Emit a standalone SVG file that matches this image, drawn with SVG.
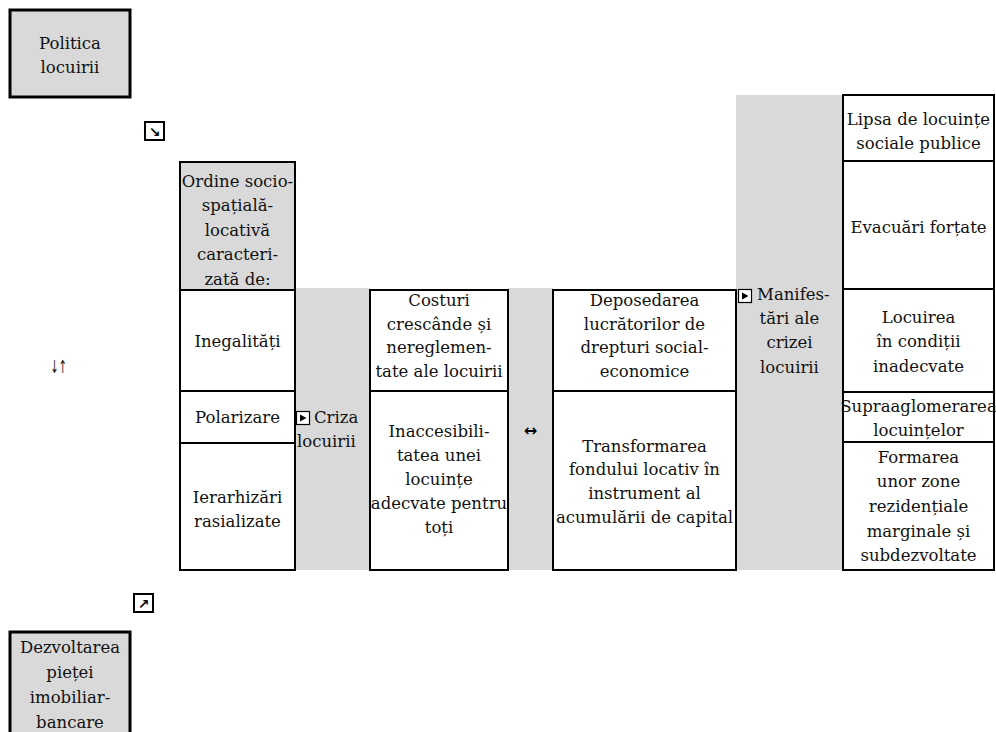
<svg xmlns="http://www.w3.org/2000/svg" width="996" height="732" viewBox="0 0 996 732">
<style>
.t{font-family:"DejaVu Serif","Liberation Serif",serif;font-size:16.5px;fill:#111;text-anchor:middle}
.ts{font-family:"DejaVu Serif","Liberation Serif",serif;font-size:16.5px;fill:#111}
.box{fill:#d9d9d9;stroke:#000;stroke-width:3}
.hd{fill:#d9d9d9;stroke:#000;stroke-width:2}
.cell{fill:#fff;stroke:#000;stroke-width:2}
.band{fill:#d9d9d9}
.ic{fill:#fff;stroke:#000;stroke-width:2}
.ic1{fill:#fff;stroke:#000;stroke-width:1.2}
.tri{fill:#000}
.arr{font-family:"DejaVu Sans",sans-serif;font-weight:bold;fill:#000;text-anchor:middle}
</style>
<rect width="996" height="732" fill="#fff"/>

<g id="politica">
<rect class="box" x="10" y="10" width="120" height="87"/>
<text class="t"><tspan x="70" y="49">Politica</tspan><tspan x="70" y="73">locuirii</tspan></text>
</g>

<g id="bands">
<rect class="band" x="295" y="288" width="75" height="282"/>
<rect class="band" x="508" y="288" width="45" height="282"/>
<rect class="band" x="736" y="95" width="107" height="475"/>
</g>

<g id="ordine">
<rect class="hd" x="180" y="162" width="115" height="128"/>
<text class="t"><tspan x="237.5" y="187">Ordine socio-</tspan><tspan x="237.5" y="211">spațială-</tspan><tspan x="237.5" y="236">locativă</tspan><tspan x="237.5" y="260">caracteri-</tspan><tspan x="237.5" y="285">zată de:</tspan></text>
</g>
<g id="inegalitati">
<rect class="cell" x="180" y="290" width="115" height="101"/>
<text class="t" x="237.5" y="347">Inegalități</text>
</g>
<g id="polarizare">
<rect class="cell" x="180" y="391" width="115" height="52"/>
<text class="t" x="237.5" y="423">Polarizare</text>
</g>
<g id="ierarhizari">
<rect class="cell" x="180" y="443" width="115" height="127"/>
<text class="t"><tspan x="237.5" y="503">Ierarhizări</tspan><tspan x="237.5" y="527">rasializate</tspan></text>
</g>

<g id="criza">
<rect class="ic1" x="296.5" y="411.5" width="13" height="13"/>
<polygon class="tri" points="300,414.5 300,421.5 306.5,418"/>
<text class="ts"><tspan x="314" y="423">Criza</tspan><tspan x="297" y="447">locuirii</tspan></text>
</g>

<g id="costuri">
<rect class="cell" x="370" y="290" width="138" height="101"/>
<text class="t"><tspan x="439" y="306">Costuri</tspan><tspan x="439" y="330">crescânde și</tspan><tspan x="439" y="353">nereglemen-</tspan><tspan x="439" y="377">tate ale locuirii</tspan></text>
</g>
<g id="inaccesibilitatea">
<rect class="cell" x="370" y="391" width="138" height="179"/>
<text class="t"><tspan x="439" y="437">Inaccesibili-</tspan><tspan x="439" y="461">tatea unei</tspan><tspan x="439" y="485">locuințe</tspan><tspan x="439" y="509">adecvate pentru</tspan><tspan x="439" y="533">toți</tspan></text>
</g>

<g id="deposedarea">
<rect class="cell" x="553" y="290" width="183" height="101"/>
<text class="t"><tspan x="644.5" y="306">Deposedarea</tspan><tspan x="644.5" y="330">lucrătorilor de</tspan><tspan x="644.5" y="353">drepturi social-</tspan><tspan x="644.5" y="377">economice</tspan></text>
</g>
<g id="transformarea">
<rect class="cell" x="553" y="391" width="183" height="179"/>
<text class="t"><tspan x="644.5" y="452">Transformarea</tspan><tspan x="644.5" y="475">fondului locativ în</tspan><tspan x="644.5" y="499">instrument al</tspan><tspan x="644.5" y="523">acumulării de capital</tspan></text>
</g>

<g id="manifestari">
<rect class="ic1" x="738.5" y="289.5" width="13" height="13"/>
<polygon class="tri" points="742,292.5 742,299.5 748.5,296"/>
<text class="ts" x="757" y="300">Manifes-</text>
<text class="t"><tspan x="789.5" y="324">tări ale</tspan><tspan x="789.5" y="348">crizei</tspan><tspan x="789.5" y="373">locuirii</tspan></text>
</g>

<g id="lipsa">
<rect class="cell" x="843" y="95" width="151" height="66"/>
<text class="t"><tspan x="918.5" y="125">Lipsa de locuințe</tspan><tspan x="918.5" y="149">sociale publice</tspan></text>
</g>
<g id="evacuari">
<rect class="cell" x="843" y="161" width="151" height="128"/>
<text class="t" x="918.5" y="233">Evacuări forțate</text>
</g>
<g id="locuirea">
<rect class="cell" x="843" y="289" width="151" height="103"/>
<text class="t"><tspan x="918.5" y="323">Locuirea</tspan><tspan x="918.5" y="347">în condiții</tspan><tspan x="918.5" y="372">inadecvate</tspan></text>
</g>
<g id="supraaglomerarea">
<rect class="cell" x="843" y="392" width="151" height="50"/>
<text class="t"><tspan x="918.5" y="412">Supraaglomerarea</tspan><tspan x="918.5" y="436">locuințelor</tspan></text>
</g>
<g id="formarea">
<rect class="cell" x="843" y="442" width="151" height="128"/>
<text class="t"><tspan x="918.5" y="463">Formarea</tspan><tspan x="918.5" y="487">unor zone</tspan><tspan x="918.5" y="512">rezidențiale</tspan><tspan x="918.5" y="537">marginale și</tspan><tspan x="918.5" y="561">subdezvoltate</tspan></text>
</g>

<g id="dezvoltarea">
<rect class="box" x="10" y="632" width="120" height="130"/>
<text class="t"><tspan x="70" y="653">Dezvoltarea</tspan><tspan x="70" y="678">pieței</tspan><tspan x="70" y="703">imobiliar-</tspan><tspan x="70" y="728">bancare</tspan></text>
</g>

<g id="connectors">
<rect class="ic" x="145" y="122" width="19" height="18"/>
<text class="arr" x="154.5" y="136.5" style="font-size:14px">↘</text>
<rect class="ic" x="134" y="594" width="19" height="18"/>
<text class="arr" x="143.5" y="608.5" style="font-size:14px">↗</text>
<text transform="translate(58.5,373) scale(0.55,1)" style="font-family:'DejaVu Sans',sans-serif;font-size:18px;fill:#222;text-anchor:middle">↓↑</text>
<text class="arr" x="530.5" y="436" style="font-size:16px">↔</text>
</g>
</svg>
